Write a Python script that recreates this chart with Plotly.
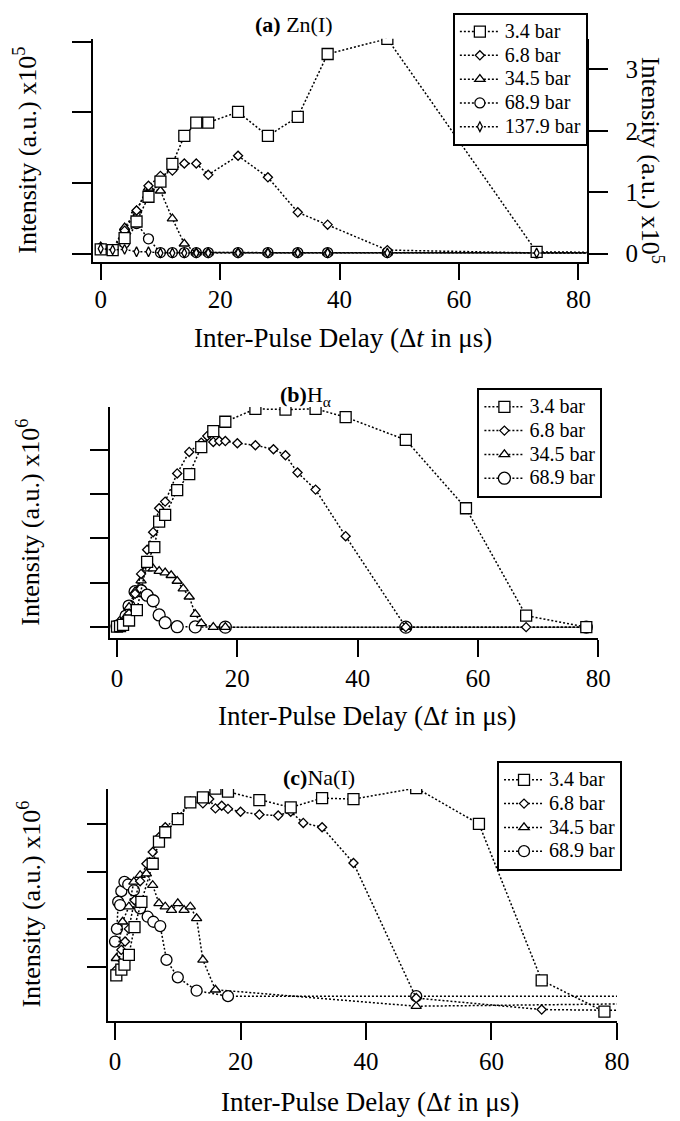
import plotly.graph_objects as go

# ---------------- data ----------------
# Panel (a) Zn(I), intensity x1e5 (left axis); 137.9 bar on right axis
a_x = [0, 2, 4, 6, 8, 10, 12, 14, 16, 18, 23, 28, 33, 38, 48, 73, 98]
a_34 = [0.12, 0.10, 0.44, 0.91, 1.61, 2.04, 2.54, 3.33, 3.71, 3.71, 4.01, 3.33, 3.87, 5.65, 6.08, 0.05, 0.02]
a_68 = [0.15, 0.10, 0.65, 1.22, 1.92, 2.20, 2.35, 2.55, 2.55, 2.23, 2.77, 2.16, 1.17, 0.82, 0.10, 0.02, 0.02]
a_345 = [0.20, 0.12, 0.74, 1.22, 1.86, 1.78, 0.99, 0.28, 0.03, 0.03, 0.03, 0.03, 0.03, 0.03, 0.03, 0.02, 0.02]
a_689 = [0.15, 0.10, 0.30, 0.85, 0.42, 0.03, 0.03, 0.03, 0.03, 0.03, 0.03, 0.03, 0.03, 0.03, 0.03, 0.02, 0.02]
a_1379 = [0.08, 0.06, 0.07, 0.03, 0.03, 0.01, 0.01, 0.01, 0.01, 0.01, 0.01, 0.01, 0.01, 0.01, 0.01, 0.01, 0.01]

# Panel (b) H-alpha, intensity x1e6
b_x_34 = [0, 0.5, 1, 2, 3.3, 5, 6.2, 7, 8, 10, 12, 14, 16, 18, 23, 28, 33, 38, 48, 58, 68, 78]
b_y_34 = [0.02, 0.05, 0.10, 0.30, 0.77, 2.94, 3.61, 4.76, 5.06, 6.18, 6.90, 8.12, 8.84, 9.26, 9.84, 9.81, 9.84, 9.47, 8.44, 5.36, 0.52, 0.0]
b_x_68 = [0, 1, 2, 3, 4, 5, 6, 7, 8, 10, 12, 14, 15, 16, 17, 18, 20, 23, 26, 28, 30, 33, 38, 48, 68, 78]
b_y_68 = [0.05, 0.20, 0.60, 1.50, 2.40, 3.49, 4.28, 5.36, 5.66, 6.93, 7.90, 8.32, 8.62, 8.35, 8.39, 8.39, 8.29, 8.20, 8.02, 7.75, 6.97, 6.20, 4.10, 0.0, 0.0, 0.0]
b_x_345 = [0, 1, 2, 3, 4, 5, 6, 7, 8, 9, 10, 11, 12, 13, 14, 16, 18, 48, 78]
b_y_345 = [0.05, 0.30, 0.90, 1.60, 2.10, 2.64, 2.64, 2.53, 2.46, 2.34, 2.08, 1.74, 1.37, 0.59, 0.17, 0.0, 0.0, 0.0, 0.0]
b_x_689 = [0, 0.5, 1, 1.5, 2, 3, 4, 5, 6, 7, 8, 10, 13, 18, 48, 78]
b_y_689 = [0.05, 0.10, 0.25, 0.50, 0.95, 1.60, 1.64, 1.44, 1.19, 0.55, 0.20, 0.02, 0.01, 0.0, 0.0, 0.0]

# Panel (c) Na(I), intensity x1e6
c_x_34 = [0.2, 1, 1.5, 2.2, 3.1, 4.2, 6, 7, 8, 10, 12, 14, 16, 18, 23, 28, 33, 38, 48, 58, 68, 78]
c_y_34 = [1.65, 1.89, 2.10, 2.51, 3.67, 4.73, 6.33, 7.26, 7.65, 8.20, 8.90, 9.11, 9.48, 9.35, 9.00, 8.69, 9.08, 9.04, 9.50, 8.00, 1.44, 0.13]
c_x_68 = [0.2, 1, 1.6, 2.2, 3.1, 4, 5, 6, 7, 8, 10, 12, 14, 15, 16, 17, 18, 20, 23, 26, 28, 30, 33, 38, 48, 68, 82]
c_y_68 = [1.89, 2.72, 3.07, 3.60, 4.80, 5.60, 6.33, 6.82, 7.44, 7.86, 8.28, 8.94, 8.86, 9.04, 8.65, 8.76, 8.63, 8.51, 8.39, 8.35, 8.51, 8.04, 7.86, 6.36, 0.70, 0.22, 0.18]
c_x_345 = [0.2, 1.2, 2.2, 3, 4, 5, 6, 7, 8, 9, 10, 11, 12, 13, 14, 16, 48, 82]
c_y_345 = [2.37, 3.90, 4.53, 5.57, 5.85, 5.92, 5.43, 4.67, 4.53, 4.39, 4.67, 4.39, 4.53, 4.04, 2.30, 1.05, 0.36, 0.46]
c_x_689 = [0, 0.3, 0.5, 0.8, 1, 1.5, 2.1, 3, 4, 5.2, 6.1, 7.2, 8.2, 10, 13, 18, 48, 82]
c_y_689 = [3.07, 3.60, 4.73, 4.60, 5.18, 5.57, 5.46, 5.22, 4.46, 4.11, 3.90, 3.72, 2.30, 1.57, 1.01, 0.78, 0.78, 0.78]

labels = ["3.4 bar", "6.8 bar", "34.5 bar", "68.9 bar", "137.9 bar"]
x_ticks = [0, 20, 40, 60, 80]
ya_ticks = [0, 2, 4, 6]
ya2_ticks = [0, 1, 2, 3]
yb_ticks = [0, 2, 4, 6, 8]
yc_ticks = [2, 4, 6, 8]
xtitle = "Inter-Pulse Delay (Δ<i>t</i> in μs)"

# ---------------- styling ----------------
W, H = 680, 1121
FONT = "Liberation Serif"
def fx(p):
    return p / W
def fy(p):
    return 1 - p / H

sym = {"3.4 bar": ("square", 11), "6.8 bar": ("diamond", 7),
       "34.5 bar": ("triangle-up", 9), "68.9 bar": ("circle", 10),
       "137.9 bar": ("diamond-tall", 7)}
rank = {lab: i + 1 for i, lab in enumerate(labels)}

fig = go.Figure()

def add(x, y, lab, xa, ya, leg, msize=None):
    s, sz = sym[lab]
    fig.add_trace(go.Scatter(
        x=x, y=y, name="<span style='font-size:20px'>" + lab + "</span>",
        mode="lines+markers", xaxis=xa, yaxis=ya,
        legend=leg, legendrank=rank[lab],
        line=dict(color="black", width=1.5, dash="2px,2px"),
        marker=dict(symbol=s, size=msize or sz, color="white",
                    line=dict(color="black", width=1.3)),
    ))

# draw order: bottom to top
add(a_x, a_1379, "137.9 bar", "x", "y2", "legend")
add(a_x, a_689, "68.9 bar", "x", "y", "legend")
add(a_x, a_345, "34.5 bar", "x", "y", "legend")
add(a_x, a_68, "6.8 bar", "x", "y", "legend")
add(a_x, a_34, "3.4 bar", "x", "y", "legend")

add(b_x_689, b_y_689, "68.9 bar", "x2", "y3", "legend2", 12)
add(b_x_345, b_y_345, "34.5 bar", "x2", "y3", "legend2")
add(b_x_68, b_y_68, "6.8 bar", "x2", "y3", "legend2")
add(b_x_34, b_y_34, "3.4 bar", "x2", "y3", "legend2")

add(c_x_689, c_y_689, "68.9 bar", "x3", "y4", "legend3", 11)
add(c_x_345, c_y_345, "34.5 bar", "x3", "y4", "legend3")
add(c_x_68, c_y_68, "6.8 bar", "x3", "y4", "legend3")
add(c_x_34, c_y_34, "3.4 bar", "x3", "y4", "legend3")

tickfont = dict(family=FONT, size=25, color="black")
common = dict(showgrid=False, zeroline=False, ticks="outside", tickwidth=2,
              tickcolor="black", linecolor="black", linewidth=2,
              tickfont=tickfont)
# label-only overlay axes for the left-hand scales (tick marks stay on the main axes)
labonly = dict(showgrid=False, zeroline=False, ticks="", showline=False,
               tickfont=tickfont, anchor="free", side="left")

legstyle = dict(bgcolor="white", bordercolor="black", borderwidth=2,
                font=dict(family=FONT, size=16, color="black"),
                xanchor="left", yanchor="top", itemwidth=40, tracegroupgap=0)

ya_range = [-0.225, 6.08]
yb_range = [-0.47, 9.92]
yc_range = [-0.26, 9.46]

fig.update_layout(
    width=W, height=H, autosize=False,
    margin=dict(l=0, r=0, t=0, b=0, pad=0),
    paper_bgcolor="white", plot_bgcolor="white",
    font=dict(family=FONT, color="black"),
    xaxis=dict(domain=[fx(95), fx(598)], range=[-1.26, 81.36], anchor="y",
               showline=True, ticklen=16,
               tickvals=x_ticks, ticklabelstandoff=-2, **common),
    yaxis=dict(domain=[fy(263), fy(39)], range=ya_range, anchor="x",
               showline=True, ticklen=19, tickvals=ya_ticks,
               showticklabels=False, **common),
    yaxis2=dict(overlaying="y", side="right", range=[-0.13, 3.50], anchor="x",
                showline=True, ticklen=19, tickvals=ya2_ticks,
                ticklabelstandoff=13, **common),
    yaxis5=dict(overlaying="y", range=ya_range, tickvals=ya_ticks,
                position=fx(71), **labonly),
    xaxis2=dict(domain=[fx(111.7), fx(610)], range=[-1.24, 80], anchor="y3",
                showline=True, ticklen=17, tickvals=x_ticks,
                ticklabelstandoff=0, **common),
    yaxis3=dict(domain=[fy(641), fy(409.3)], range=yb_range, anchor="x2",
                showline=True, ticklen=18, tickvals=yb_ticks,
                showticklabels=False, **common),
    yaxis6=dict(overlaying="y3", range=yb_range, tickvals=yb_ticks,
                position=fx(87), **labonly),
    xaxis3=dict(domain=[fx(110), fx(629)], range=[-1.14, 80], anchor="y4",
                showline=True, ticklen=17, tickvals=x_ticks,
                ticklabelstandoff=0, **common),
    yaxis4=dict(domain=[fy(1026.5), fy(793.3)], range=yc_range, anchor="x3",
                showline=True, ticklen=19, tickvals=yc_ticks,
                showticklabels=False, **common),
    yaxis7=dict(overlaying="y4", range=yc_range, tickvals=yc_ticks,
                position=fx(83), **labonly),
    legend=dict(x=fx(461.7), y=fy(12.7), **legstyle),
    legend2=dict(x=fx(486.7), y=fy(390), **legstyle),
    legend3=dict(x=fx(506.7), y=fy(765), **legstyle),
)

def ann(text, x, y, size, angle=0, xanchor="center"):
    fig.add_annotation(text=text, x=fx(x), y=fy(y), xref="paper", yref="paper",
                       showarrow=False, textangle=angle, xanchor=xanchor,
                       yanchor="middle",
                       font=dict(family=FONT, size=size, color="black"))

ann("<b>(a)</b> Zn(I)", 300, 25, 22)
ann("<b>(b)</b>H<sub>α</sub>", 283, 398, 22, xanchor="left")
ann("<b>(c)</b>Na(I)", 286.7, 782, 22, xanchor="left")

ann(xtitle, 350, 340, 27)
ann(xtitle, 374, 720, 27)
ann(xtitle, 377, 1108, 27)

ann("Intensity (a.u.) x10<sup>5</sup>", 26, 151, 26, angle=-90)
ann("Intensity (a.u.) x10<sup>5</sup>", 665, 161, 26, angle=90)
ann("Intensity (a.u.) x10<sup>6</sup>", 29, 525, 26, angle=-90)
ann("Intensity (a.u.) x10<sup>6</sup>", 30, 909, 26, angle=-90)

fig.write_html("out.html")
